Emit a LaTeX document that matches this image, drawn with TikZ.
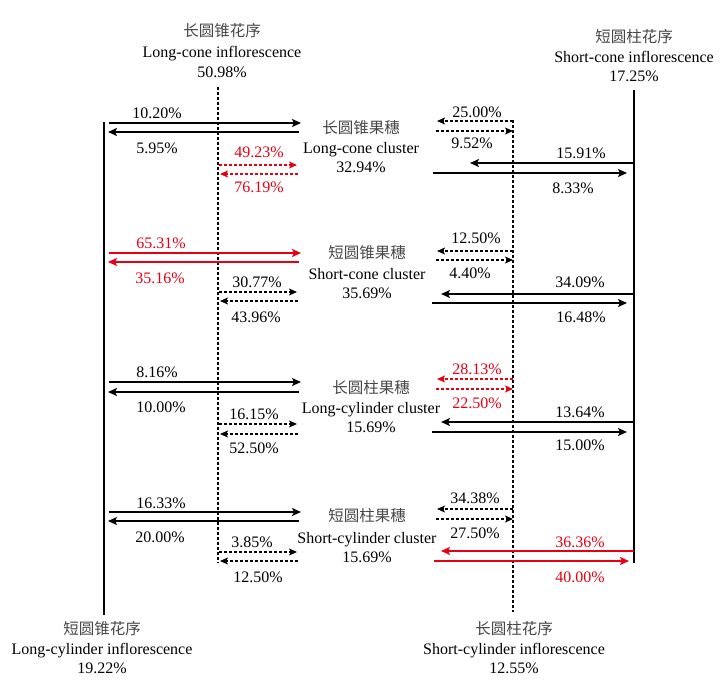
\documentclass[tikz,border=0pt]{standalone}
\usepackage{fontspec}
\setmainfont{Liberation Serif}
\newfontfamily\cjk{Noto Sans CJK SC}
\usetikzlibrary{arrows.meta}
\definecolor{myred}{RGB}{230,0,18}
\tikzset{
  lbl/.style={inner sep=0pt, text height=11pt, text depth=0pt, font=\fontsize{16}{19}\selectfont},
  zh/.style={lbl, text=black!72, font=\cjk\fontsize{15.5}{19}\selectfont},
  rd/.style={text=myred},
  sol/.style={line width=1.8pt, -{Stealth[length=9pt,width=8pt,inset=2pt]}},
  dsh/.style={line width=1.5pt, dash pattern=on 3pt off 2pt, -{Stealth[length=8pt,width=7pt,inset=2pt]}},
  rline/.style={draw=myred},
  vsol/.style={line width=1.8pt},
  vdsh/.style={line width=1.3pt, dash pattern=on 3pt off 2pt},
}
\newcommand\myarrow[5]{\coordinate (#2s) at (#3,#5); \coordinate (#2e) at (#4,#5); \draw[#1] (#2s) -- (#2e);}
\begin{document}
\begin{tikzpicture}[x=1pt,y=-1pt]
\useasboundingbox (0,0) rectangle (728,697);
% vertical lines
\coordinate (LSt) at (104,122); \coordinate (LSb) at (104,615);
\coordinate (LDt) at (218,87);  \coordinate (LDb) at (218,563);
\coordinate (RDt) at (513,120); \coordinate (RDb) at (513,612);
\coordinate (RSt) at (634,90);  \coordinate (RSb) at (634,563);
\draw[vsol] (LSt) -- (LSb);
\draw[vdsh] (LDt) -- (LDb);
\draw[vdsh] (RDt) -- (RDb);
\draw[vsol] (RSt) -- (RSb);
% headers
\node[zh]  (tl1) at (222,31) {长圆锥花序};
\node[lbl] (tl2) at (222,52) {Long-cone inflorescence};
\node[lbl] (tl3) at (222,72) {50.98\%};
\node[zh]  (tr1) at (634,37) {短圆柱花序};
\node[lbl] (tr2) at (634,57) {Short-cone inflorescence};
\node[lbl] (tr3) at (634,76) {17.25\%};
\node[zh]  (bl1) at (102,629) {短圆锥花序};
\node[lbl] (bl2) at (102,649) {Long-cylinder inflorescence};
\node[lbl] (bl3) at (102,668) {19.22\%};
\node[zh]  (br1) at (514,629) {长圆柱花序};
\node[lbl] (br2) at (514,649) {Short-cylinder inflorescence};
\node[lbl] (br3) at (514,668) {12.55\%};
% clusters
\node[zh]  (c1a) at (361,128) {长圆锥果穗};
\node[lbl] (c1b) at (361,148) {Long-cone cluster};
\node[lbl] (c1c) at (361,167) {32.94\%};
\node[zh]  (c2a) at (367,253) {短圆锥果穗};
\node[lbl] (c2b) at (367,274) {Short-cone cluster};
\node[lbl] (c2c) at (367,293) {35.69\%};
\node[zh]  (c3a) at (371,388) {长圆柱果穗};
\node[lbl] (c3b) at (371,408) {Long-cylinder cluster};
\node[lbl] (c3c) at (371,427) {15.69\%};
\node[zh]  (c4a) at (367,516) {短圆柱果穗};
\node[lbl] (c4b) at (367,538) {Short-cylinder cluster};
\node[lbl] (c4c) at (367,557) {15.69\%};
% ===== group 1 =====
\myarrow{sol}{g1a}{109}{301}{123}
\myarrow{sol}{g1b}{299}{108}{132}
\node[lbl] (p1a) at (157,113) {10.20\%};
\node[lbl] (p1b) at (157,148) {5.95\%};
\myarrow{dsh,rline}{g1c}{219}{297}{165}
\myarrow{dsh,rline}{g1d}{298}{220}{174}
\node[lbl,rd] (p1c) at (259,152) {49.23\%};
\node[lbl,rd] (p1d) at (259,187) {76.19\%};
\myarrow{dsh}{g1e}{513}{437}{121}
\myarrow{dsh}{g1f}{436}{513}{131}
\node[lbl] (p1e) at (477,112) {25.00\%};
\node[lbl] (p1f) at (472,143) {9.52\%};
\myarrow{sol}{g1g}{634}{470}{163}
\myarrow{sol}{g1h}{433}{627}{173}
\node[lbl] (p1g) at (581,153) {15.91\%};
\node[lbl] (p1h) at (573,188) {8.33\%};
% ===== group 2 =====
\myarrow{sol,rline}{g2a}{109}{301}{253}
\myarrow{sol,rline}{g2b}{299}{108}{262}
\node[lbl,rd] (p2a) at (161,243) {65.31\%};
\node[lbl,rd] (p2b) at (160,278) {35.16\%};
\myarrow{dsh}{g2c}{219}{297}{292}
\myarrow{dsh}{g2d}{298}{220}{301}
\node[lbl] (p2c) at (257,282) {30.77\%};
\node[lbl] (p2d) at (256,317) {43.96\%};
\myarrow{dsh}{g2e}{513}{437}{251}
\myarrow{dsh}{g2f}{436}{513}{260}
\node[lbl] (p2e) at (476,238) {12.50\%};
\node[lbl] (p2f) at (470,273) {4.40\%};
\myarrow{sol}{g2g}{634}{441}{294}
\myarrow{sol}{g2h}{432}{627}{303}
\node[lbl] (p2g) at (580,282) {34.09\%};
\node[lbl] (p2h) at (581,317) {16.48\%};
% ===== group 3 =====
\myarrow{sol}{g3a}{109}{301}{382}
\myarrow{sol}{g3b}{299}{108}{392}
\node[lbl] (p3a) at (157,372) {8.16\%};
\node[lbl] (p3b) at (161,407) {10.00\%};
\myarrow{dsh}{g3c}{219}{297}{424}
\myarrow{dsh}{g3d}{298}{220}{434}
\node[lbl] (p3c) at (254,414) {16.15\%};
\node[lbl] (p3d) at (254,448) {52.50\%};
\myarrow{dsh,rline}{g3e}{513}{437}{379}
\myarrow{dsh,rline}{g3f}{436}{513}{389}
\node[lbl,rd] (p3e) at (477,369) {28.13\%};
\node[lbl,rd] (p3f) at (477,403) {22.50\%};
\myarrow{sol}{g3g}{634}{441}{422}
\myarrow{sol}{g3h}{432}{627}{432}
\node[lbl] (p3g) at (580,412) {13.64\%};
\node[lbl] (p3h) at (580,445) {15.00\%};
% ===== group 4 =====
\myarrow{sol}{g4a}{109}{301}{512}
\myarrow{sol}{g4b}{299}{108}{521}
\node[lbl] (p4a) at (161,503) {16.33\%};
\node[lbl] (p4b) at (160,537) {20.00\%};
\myarrow{dsh}{g4c}{219}{297}{552}
\myarrow{dsh}{g4d}{298}{220}{561}
\node[lbl] (p4c) at (252,542) {3.85\%};
\node[lbl] (p4d) at (258,577) {12.50\%};
\myarrow{dsh}{g4e}{513}{437}{509}
\myarrow{dsh}{g4f}{436}{513}{519}
\node[lbl] (p4e) at (475,498) {34.38\%};
\node[lbl] (p4f) at (475,533) {27.50\%};
\myarrow{sol,rline}{g4g}{634}{441}{551}
\myarrow{sol,rline}{g4h}{434}{629}{561}
\node[lbl,rd] (p4g) at (580,542) {36.36\%};
\node[lbl,rd] (p4h) at (580,577) {40.00\%};
\end{tikzpicture}
\end{document}
